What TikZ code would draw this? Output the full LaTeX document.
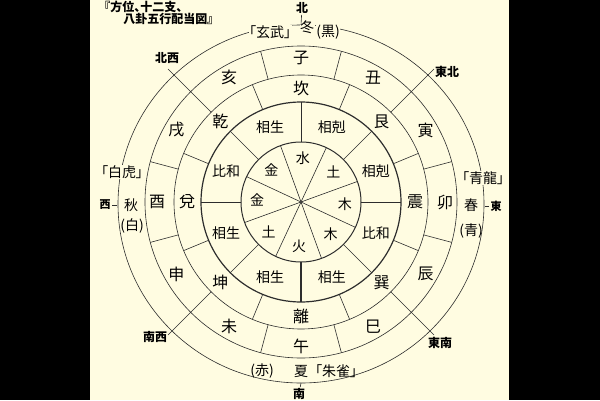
\documentclass[tikz,border=0pt]{standalone}
\usepackage{fontspec}
\setmainfont{Noto Sans CJK JP}[RawFeature={+palt}]
\definecolor{paper}{RGB}{255,252,225}
\definecolor{ink}{RGB}{45,45,45}
\tikzset{
  big/.style={font=\fontsize{16}{16}\selectfont,inner sep=1pt},
  mid/.style={font=\fontsize{14}{14}\selectfont,inner sep=1pt},
  sml/.style={font=\bfseries\fontsize{12}{12}\selectfont,inner sep=1pt},
  tiny/.style={font=\bfseries\fontsize{11}{11}\selectfont,inner sep=1pt},
  cover/.style={fill=paper,inner sep=0.5pt},
}
\begin{document}
\begin{tikzpicture}[x=1pt,y=1pt,line width=0.6pt,draw=ink]
    \useasboundingbox(0,0)rectangle(600,400);
    \fill[black](0,0)rectangle(600,400);
    \fill[paper](90,0)rectangle(509,400);
    \node[sml,anchor=west](title1)at(103,393){『方位、十二支、};
    \node[sml,anchor=west](title2)at(122,381){八卦五行配当図』};
    \begin{scope}[shift={(301,198)}]
        \draw[line width=1pt](0,0)circle(60);
        \draw[line width=1.2pt](0,0)circle(100);
        \draw(0,0)circle(127);
        \draw(0,0)circle(156);
        \draw(0,-2)ellipse(183 and 179);
        \foreach \a in {20,65,...,335}\draw(0,0)--(\a:60);
        \foreach \a in {0,45,...,315}\draw(\a:60)--(\a:100);
        \draw[line width=1.5pt](-90:60)--(-90:100);
        \foreach \a in {22.5,67.5,...,337.5}\draw(\a:100)--(\a:127);
        \foreach \a in {15,75,105,165,195,255,285,345}\draw(\a:127)--(\a:156);
        \foreach \a in {45,135,225,315}\draw(\a:127)--(\a:188);
        \foreach \a/\t [count=\i] in {87.5/水,42.5/土,-2.5/木,-47.5/木,-92.5/火,-137.5/土,177.5/金,132.5/金}
            \node[mid](wx\i)at(\a:44){\t};
        \foreach \a/\t [count=\i] in {112.5/相生,67.5/相剋,22.5/相剋,-22.5/比和,-67.5/相生,-112.5/相生,-157.5/相生,157.5/比和}
            \node[mid](rel\i)at(\a:81){\t};
        \foreach \a/\t [count=\i] in {90/坎,45/艮,0/震,-45/巽,-90/離,-135/坤,180/兌,135/乾}
            \node[big](gua\i)at(\a:114){\t};
        \foreach \a/\t [count=\i] in {90/子,60/丑,30/寅,0/卯,-30/辰,-60/巳,-90/午,-120/未,-150/申,180/酉,150/戌,120/亥}
            \node[big](zhi\i)at(\a:144){\t};
        \node[mid,cover](xuanwu)at(-31,170){「玄武」};
        \node[mid,cover](dong)at(6,175){冬};
        \node[mid,cover](hei)at(27,170){(黒)};
        \node[mid,cover](qinglong)at(182,24){「青龍」};
        \node[mid](chun)at(170,-3){春};
        \node[mid](qing)at(170,-29){(青)};
        \node[mid,cover](baihu)at(-179,30){「白虎」};
        \node[mid](qiu)at(-170,-3){秋};
        \node[mid](bai)at(-169,-24){(白)};
        \node[mid](chi)at(-39,-169){(赤)};
        \node[mid](xia)at(0,-169){夏};
        \node[mid](zhuque)at(35,-169){「朱雀」};
        \node[sml](bei)at(1,194){北};
        \node[sml](nan)at(-2,-192){南};
        \node[tiny](ldong)at(195,-4){東};
        \node[tiny](lxi)at(-196,-3){西};
        \draw(90:177)--(bei);
        \draw(0,-181)--(nan);
        \draw(184,-4)--(ldong);
        \draw(-184,-3)--(lxi);
        \node[sml](xibei)at(-134,144){北西};
        \node[sml](dongbei)at(146,130){東北};
        \node[sml](xinan)at(-146,-135){南西};
        \node[sml](dongnan)at(139,-141){東南};
    \end{scope}
\end{tikzpicture}
\end{document}
